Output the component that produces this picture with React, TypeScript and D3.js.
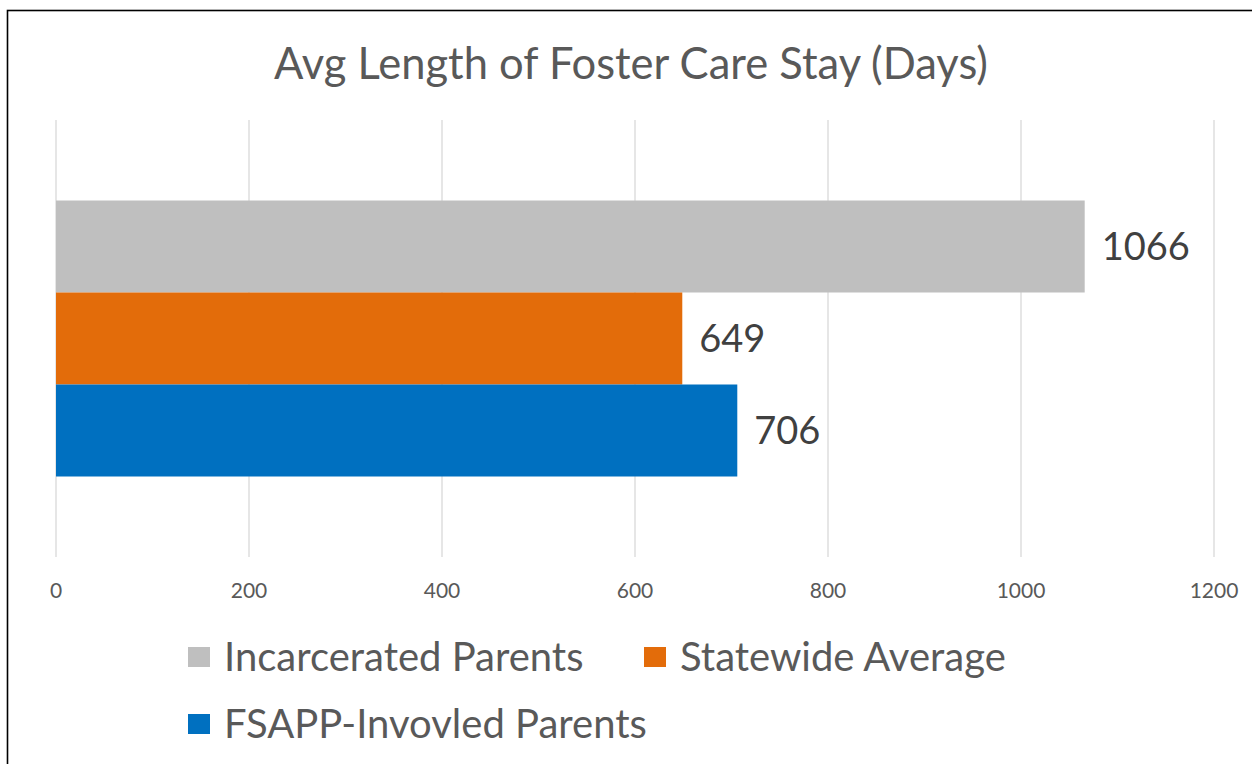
import React from 'react';
import * as d3 from 'd3';

const title = 'Avg Length of Foster Care Stay (Days)';
const seriesNames = ['Incarcerated Parents', 'Statewide Average', 'FSAPP-Invovled Parents'];
const seriesValues = [1066, 649, 706];
const seriesColors = ['#bfbfbf', '#e36c0a', '#0070c0'];
const xTicks = [0, 200, 400, 600, 800, 1000, 1200];

const W = 1252;
const H = 764;
const FONT = 'Lato, "Open Sans", sans-serif';

const App: React.FC = () => {
  const plot = { left: 56, right: 1214, top: 120, bottom: 557 };

  const x = d3.scaleLinear().domain([0, 1200]).range([plot.left, plot.right]);
  const y = d3.scaleBand<string>()
    .domain(seriesNames)
    .range([plot.top, plot.bottom])
    .paddingInner(0)
    .paddingOuter(0.875);

  // legend layout: two items on first row, one on second
  const legendPos = [
    { x: 188, y: 657 },
    { x: 644, y: 657 },
    { x: 188, y: 724 },
  ];

  return (
    <svg width={W} height={H} style={{ position: 'absolute', left: 0, top: 0, background: '#fff' }}>
      <rect x={0} y={0} width={W} height={H} fill="#fff" />
      {/* chart frame, cut at right and bottom */}
      <rect x={7.5} y={10.5} width={W + 20} height={H + 20} fill="none" stroke="#000" strokeWidth={1.6} />

      <text x={631} y={79} textAnchor="middle" fontFamily={FONT} fontSize={43.5} fill="#595959">
        {title}
      </text>

      {/* gridlines */}
      {xTicks.map(t => (
        <line key={t} x1={x(t)} x2={x(t)} y1={plot.top} y2={plot.bottom} stroke="#d9d9d9" strokeWidth={1.3} />
      ))}

      {/* bars */}
      {seriesNames.map((s, i) => (
        <rect key={s} x={x(0)} y={y(s)!} width={x(seriesValues[i]) - x(0)} height={y.bandwidth()} fill={seriesColors[i]} />
      ))}

      {/* data labels */}
      {seriesNames.map((s, i) => (
        <text key={s} x={x(seriesValues[i]) + 17} y={y(s)! + y.bandwidth() / 2} dy="0.36em"
          fontFamily={FONT} fontSize={38} fill="#404040">
          {seriesValues[i]}
        </text>
      ))}

      {/* tick labels */}
      {xTicks.map(t => (
        <text key={t} x={x(t)} y={598} textAnchor="middle" fontFamily={FONT} fontSize={21} fill="#595959">
          {t}
        </text>
      ))}

      {/* legend */}
      {seriesNames.map((s, i) => (
        <g key={s} transform={`translate(${legendPos[i].x},${legendPos[i].y})`}>
          <rect x={0} y={-10} width={22} height={20} fill={seriesColors[i]} />
          <text x={36} y={0} dy="0.36em" fontFamily={FONT} fontSize={40} fill="#595959">{s}</text>
        </g>
      ))}
    </svg>
  );
};

export default App;
